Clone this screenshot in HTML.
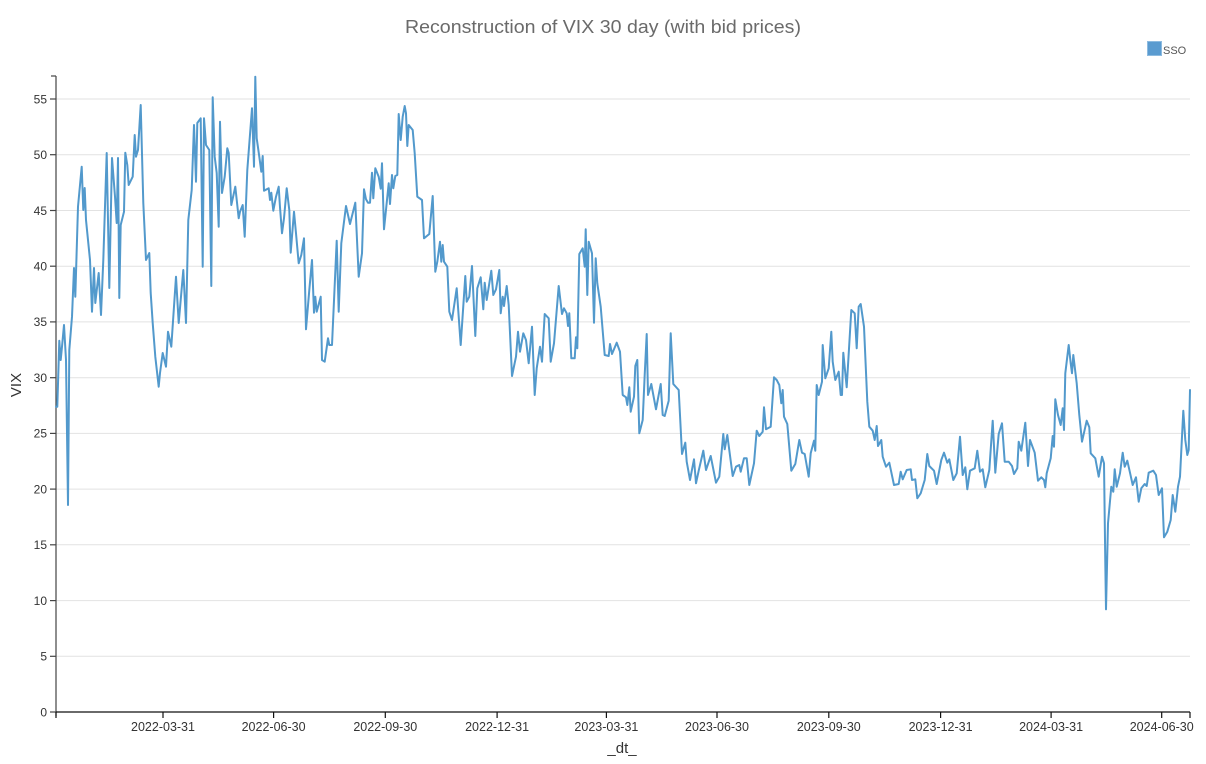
<!DOCTYPE html>
<html>
<head>
<meta charset="utf-8">
<style>
html,body{margin:0;padding:0;background:#fff;}
svg{display:block;font-family:"Liberation Sans",Helvetica,Arial,sans-serif;}
</style>
</head>
<body>
<svg width="1206" height="764" viewBox="0 0 1206 764" xmlns="http://www.w3.org/2000/svg">
<rect width="1206" height="764" fill="#fff"/>
<text x="603" y="33" text-anchor="middle" font-size="18.5" fill="#6a6a6a" textLength="396" lengthAdjust="spacingAndGlyphs">Reconstruction of VIX 30 day (with bid prices)</text>

<!-- gridlines -->
<g stroke="#e2e2e2" stroke-width="1">
<line x1="56" x2="1190" y1="656.3" y2="656.3"/>
<line x1="56" x2="1190" y1="600.6" y2="600.6"/>
<line x1="56" x2="1190" y1="544.8" y2="544.8"/>
<line x1="56" x2="1190" y1="489.1" y2="489.1"/>
<line x1="56" x2="1190" y1="433.4" y2="433.4"/>
<line x1="56" x2="1190" y1="377.7" y2="377.7"/>
<line x1="56" x2="1190" y1="321.9" y2="321.9"/>
<line x1="56" x2="1190" y1="266.2" y2="266.2"/>
<line x1="56" x2="1190" y1="210.5" y2="210.5"/>
<line x1="56" x2="1190" y1="154.7" y2="154.7"/>
<line x1="56" x2="1190" y1="99" y2="99"/>
</g>

<!-- y axis -->
<g stroke="#444" stroke-width="1.2">
<line x1="56" x2="56" y1="76" y2="716"/>
<line x1="51" x2="56" y1="76" y2="76"/>
<line x1="50" x2="56" y1="712" y2="712"/>
<line x1="50" x2="56" y1="656.3" y2="656.3"/>
<line x1="50" x2="56" y1="600.6" y2="600.6"/>
<line x1="50" x2="56" y1="544.8" y2="544.8"/>
<line x1="50" x2="56" y1="489.1" y2="489.1"/>
<line x1="50" x2="56" y1="433.4" y2="433.4"/>
<line x1="50" x2="56" y1="377.7" y2="377.7"/>
<line x1="50" x2="56" y1="321.9" y2="321.9"/>
<line x1="50" x2="56" y1="266.2" y2="266.2"/>
<line x1="50" x2="56" y1="210.5" y2="210.5"/>
<line x1="50" x2="56" y1="154.7" y2="154.7"/>
<line x1="50" x2="56" y1="99" y2="99"/>
</g>
<g font-size="12" fill="#333" text-anchor="end">
<text x="47" y="716.3">0</text>
<text x="47" y="660.6">5</text>
<text x="47" y="604.9">10</text>
<text x="47" y="549.1">15</text>
<text x="47" y="493.4">20</text>
<text x="47" y="437.7">25</text>
<text x="47" y="382">30</text>
<text x="47" y="326.2">35</text>
<text x="47" y="270.5">40</text>
<text x="47" y="214.8">45</text>
<text x="47" y="159">50</text>
<text x="47" y="103.3">55</text>
</g>
<text transform="translate(21,385) rotate(-90)" text-anchor="middle" font-size="15" fill="#333">VIX</text>

<!-- x axis -->
<g stroke="#111" stroke-width="1.2">
<line x1="56" x2="1190" y1="712" y2="712"/>
<line x1="56" x2="56" y1="712" y2="718"/>
<line x1="1190" x2="1190" y1="712" y2="718"/>
<line x1="163" x2="163" y1="712" y2="718"/>
<line x1="273.6" x2="273.6" y1="712" y2="718"/>
<line x1="385.3" x2="385.3" y1="712" y2="718"/>
<line x1="497.1" x2="497.1" y1="712" y2="718"/>
<line x1="606.4" x2="606.4" y1="712" y2="718"/>
<line x1="717" x2="717" y1="712" y2="718"/>
<line x1="828.8" x2="828.8" y1="712" y2="718"/>
<line x1="940.6" x2="940.6" y1="712" y2="718"/>
<line x1="1051.1" x2="1051.1" y1="712" y2="718"/>
<line x1="1161.7" x2="1161.7" y1="712" y2="718"/>
</g>
<g font-size="12.5" fill="#333" text-anchor="middle">
<text x="163" y="731">2022-03-31</text>
<text x="273.6" y="731">2022-06-30</text>
<text x="385.3" y="731">2022-09-30</text>
<text x="497.1" y="731">2022-12-31</text>
<text x="606.4" y="731">2023-03-31</text>
<text x="717" y="731">2023-06-30</text>
<text x="828.8" y="731">2023-09-30</text>
<text x="940.6" y="731">2023-12-31</text>
<text x="1051.1" y="731">2024-03-31</text>
<text x="1161.7" y="731">2024-06-30</text>
</g>
<text x="622" y="753" text-anchor="middle" font-size="15" fill="#333">_dt_</text>

<!-- legend -->
<rect x="1147.5" y="41.5" width="14" height="14" fill="#5a9bd0" stroke="#8dbbe0" stroke-width="1"/>
<text x="1163" y="54" font-size="11" fill="#555">SSO</text>

<!-- series -->
<polyline fill="none" stroke="#5299cc" stroke-width="2" stroke-linejoin="round" stroke-linecap="round" points="
56,406.7 57.3,406.7 59.3,340.7 60.7,360 62,346.7 64,325 66,360 68,505 69.3,350 72,316.7 74,268 75.3,296.7 78,206.7 81.7,166.7 83.3,210 84.7,188 86,220 90,260 92,311.7 94,268 95.3,303 98.7,273 101,315 103.3,260 106.7,153 109.3,288 112,158 115,196.7 116.7,223 118,158 119.3,298 120.7,225 124,211.7 125.3,152.7 127.3,165 128.7,185 132.7,176.7 134.7,135 136,156.7 138,150 140.7,105 143.3,203 146,260 149.3,253 150.7,293 152.7,323 155.3,356.7 158.7,386.7 160,373 162.7,353 166,366.7 168,331.7 171.3,346.7 176,276.7 178.7,323 183.3,270 186,323 188.3,220 191.7,190 194,125 196,181.7 197.3,123 200.7,118.3 202.7,266.7 204,118.3 206,145 209.3,150 211.3,286 212.7,97.3 214.7,156.7 216.7,173 218.7,226.7 220,121.7 222,193 224.7,176.7 227.3,148.3 228.7,153 231.3,205 235.3,186.7 238.7,218.3 240,211.7 242.7,205 244.7,236.7
247.3,170 252,108.3 254,166.7 255.3,76.7 256.7,138.3 259.3,156.7 261.3,171.7 262.7,156 264,190.7 268.7,188.3 270,200 271.3,192.7 273.3,210.7 276,196.7 278.7,186.7 280,207.3 282,233.3 284,218.3 286.7,188.3 289.3,210 290.7,252.7 294,211.7 296,233.3 298.7,263.3 301.3,255 304,238.3 306,329.3 309.3,290 312,260 314,312.7 315.3,296.7 316.7,311.7 320.7,296.7 322,360 324.7,361.7 328,338.3 329.3,345 332,345 336.7,240.7 338.7,311.7 341.3,243.3 346,206 350,224 355.3,202.7 358.7,276.7 362,253.3 364,189.3 366,199.3 368,202.7 370,202.7 372,172.7 373.3,198.3 375.3,168.3 378.7,176.7 380.7,188.7 382,163.3 384,229.3 388.7,183.3 390,204 392,175 393.3,188.3 395.3,176 397.3,175 398.7,114 400.7,140 402.7,116.7 404.7,106 406,113.3 407.3,146 408.7,125 412.7,130 414.7,153.3 417.3,196.7 422,200 424,238.3 429.3,234 432.7,196 435.3,271.7
437.3,261.7 440,241.7 441.3,261.7 442.7,245 444,261.7 447.3,266.7 449.3,311.7 452,320 456.7,288.3 460.7,345 465.3,276 466.7,301.7 469.3,296.7 472,266 475.3,336 477.3,288.3 480.7,277.3 483.3,309.3 484.7,282.7 486.7,300 491.3,270.7 493.3,295 496,289.3 499.3,270 500.7,313.3 502.7,296.7 504,306 506.7,286 508.7,305 512,376 516,356.7 518,331.7 520,351.7 523.3,333.3 526,340 528.7,363.3 532,326.7 534.7,395 536.7,368.3 540,346.7 542,361.7 544.7,314 548.7,318.3 550.7,361.7 554,343.3 558.7,286 562,314 564,308.3 566.7,313.3 568,326 569.3,313.3 571.3,358.3 574.7,358.3 576,337.3 577.3,348.3 579.3,254 582.7,248.3 584.7,266.7 585.7,229.3 587.3,295 588.7,241.7 592,253.3 594,322.7 595.7,258.3 597.3,283.3 600.7,306.7 604.7,355 608.7,356 610,344 612,354 616.7,342.7 620,351.7
622.7,395 626,397.3 627.3,405 629.3,387.3 630.7,411.7 634,396.7 635.3,366 637.3,360 639.3,433.3 642.7,420 644.7,375 646.7,334 648,395 651.3,384 652.7,391.7 656,409.3 660.7,384 662.7,415 664.7,416 668.7,400.7 670.7,333.3 673.3,384 678.7,390 682,454 685.3,442.7 686.7,461.7 690,480 694,459.3 696,483.3 698.7,470.7 703.3,450.7 706,470 710.7,456 716,482.7 719.3,476.7 723.3,434 724.7,449.3 727.3,435 732.7,476 736,466.7 739.3,465 740.7,471.7 744,458.3 746.7,458.3 749.3,485 754,463.3 756.7,430.7 759.3,436 762.7,431.7 764,407.3 766,429.3 770.7,426.7 774,377.3 776.7,380 779.3,385 781.3,403.3 782.7,390 784,416.7 787.3,424 791.3,470.7 795.3,464 799.3,440 802,452.7 804.7,454 808.7,476.7 810.7,453.3 814,440.7
815.3,450.7 816.7,385 818.7,395 822,381.7 822.7,345 825.3,378.3 828.7,368.3 831.3,331.7 832.7,361.7 835.3,380 838.7,371.7 840.7,395 842,395 843.3,352.7 846.7,387.3 851.3,310 854.7,313.3 856.7,348.3 858.7,306.7 860.7,304 864,326.7 867.3,401.7 869.3,426.7 872.7,430.7 874.7,440 876.7,426 878,446 881.3,440 882.7,456.7 886,466.7 889.3,462.7 894,485 898.7,484 900.7,471.7 902.7,479.3 906.7,470 910.7,469.3 912,480 915.3,479.3 917.3,498.3 920.7,493.3 924.7,480 927.3,454 929.3,466 934,470.7 936.7,484 941.3,460 944,452.7 947.3,462.7 949.3,459.3 953.3,480 956.7,473.3 960,436.7 962.7,475 965.3,467.3 967.3,489.3 970,470.7 974.7,468.3 977.3,450.7 980,471.7 982.7,469.3 985.3,487.3 989.3,470 992.7,420.7 995.3,472.7 998.7,434 1002,423.3 1004.7,461.7
1008.7,461.7 1012,466 1014,474 1017.3,468.3 1018.7,441.7 1021.3,450.7 1025.3,422.7 1028,466 1030,440 1034.7,452.7 1038,480.7 1041.3,477.3 1044,480 1045.3,487.3 1046.7,473.3 1050.7,458.3 1052.7,436 1054,446.7 1055.3,399.3 1058,415 1060.7,425 1062.7,408.3 1064,430 1065.3,373.3 1068.7,345 1070.7,363.3 1072,373.3 1073.3,355 1076.7,383.3 1079.3,415 1082,441.7 1086.7,420.7 1089.3,427.3 1090.7,453.3 1095.3,458.3 1098.7,476.7 1102,456.7 1104,463.3 1105.3,563.3 1106,609.3 1108,523.3 1111.3,486.7 1113.3,491.7 1114.7,469.3 1116.7,486.7 1120,473.3 1122.7,452.7 1124.7,466.7 1127.3,460.7 1130,472.7 1132.7,485 1136,477.3 1138.7,501.7 1141.3,488.3 1144.7,484 1146.7,486 1148.7,472.7 1153.3,470.7 1156,475 1158.7,495 1162,488.3 1164,537.3 1167.3,531.7 1170.7,520 1172.7,495 1175.3,511.7 1178,486.7 1180,476.7 1183.3,410.7 1185.3,440 1187.3,455 1188.7,450 1190,390"/>
</svg>
</body>
</html>
